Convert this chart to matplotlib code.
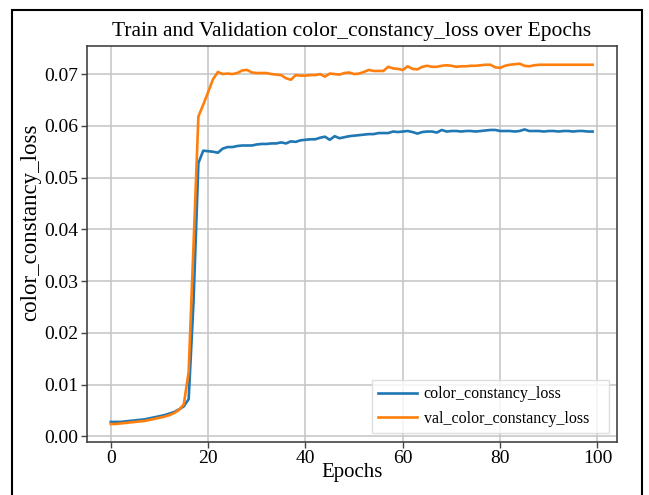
import matplotlib
matplotlib.use("Agg")
import matplotlib.pyplot as plt
from matplotlib.patches import Rectangle

plt.rcParams['font.family'] = ['Liberation Serif', 'DejaVu Serif']

epochs = list(range(100))

train_loss = [
    0.0028, 0.0028, 0.0028, 0.0029, 0.0030, 0.0031, 0.0032, 0.0033, 0.0035, 0.0037,
    0.0039, 0.0041, 0.0044, 0.0047, 0.0052, 0.0058, 0.0072, 0.0260, 0.0528, 0.0552,
    0.0551, 0.0550, 0.0548, 0.0556, 0.0559, 0.0559, 0.0561, 0.0562, 0.0562, 0.0562,
    0.0564, 0.0565, 0.0565, 0.0566, 0.0566, 0.0568, 0.0566, 0.0570, 0.0569, 0.0572,
    0.0573, 0.0574, 0.0574, 0.0577, 0.0579, 0.0573, 0.0580, 0.0576, 0.0578, 0.0580,
    0.0581, 0.0582, 0.0583, 0.0584, 0.0584, 0.0586, 0.0586, 0.0586, 0.0589, 0.0588,
    0.0589, 0.0590, 0.0588, 0.0585, 0.0588, 0.0589, 0.0589, 0.0587, 0.0592, 0.0589,
    0.0590, 0.0590, 0.0589, 0.0590, 0.0590, 0.0589, 0.0590, 0.0591, 0.0592, 0.0592,
    0.0590, 0.0590, 0.0590, 0.0589, 0.0590, 0.0593, 0.0590, 0.0590, 0.0590, 0.0589,
    0.0590, 0.0590, 0.0589, 0.0590, 0.0590, 0.0589, 0.0590, 0.0590, 0.0589, 0.0589,
]

val_loss = [
    0.0024, 0.0024, 0.0025, 0.0026, 0.0027, 0.0028, 0.0029, 0.0030, 0.0032, 0.0034,
    0.0036, 0.0038, 0.0041, 0.0045, 0.0051, 0.0062, 0.0125, 0.0370, 0.0618, 0.0641,
    0.0665, 0.0690, 0.0704, 0.0700, 0.0701, 0.0700, 0.0702, 0.0707, 0.0708, 0.0703,
    0.0702, 0.0702, 0.0702, 0.0700, 0.0699, 0.0698, 0.0692, 0.0689, 0.0698, 0.0697,
    0.0697, 0.0698, 0.0698, 0.0700, 0.0695, 0.0701, 0.0700, 0.0699, 0.0702, 0.0703,
    0.0700, 0.0701, 0.0704, 0.0708, 0.0706, 0.0706, 0.0706, 0.0714, 0.0711, 0.0710,
    0.0708, 0.0715, 0.0710, 0.0709, 0.0714, 0.0716, 0.0714, 0.0714, 0.0716, 0.0717,
    0.0716, 0.0714, 0.0715, 0.0715, 0.0716, 0.0716, 0.0717, 0.0718, 0.0718, 0.0713,
    0.0712, 0.0716, 0.0718, 0.0719, 0.0720, 0.0716, 0.0715, 0.0717, 0.0718, 0.0718,
    0.0718, 0.0718, 0.0718, 0.0718, 0.0718, 0.0718, 0.0718, 0.0718, 0.0718, 0.0718,
]

title = "Train and Validation color_constancy_loss over Epochs"
xlabel = "Epochs"
ylabel = "color_constancy_loss"
labels = ["color_constancy_loss", "val_color_constancy_loss"]
yticks = [0.00, 0.01, 0.02, 0.03, 0.04, 0.05, 0.06, 0.07]
xticks = [0, 20, 40, 60, 80, 100]

W, H = 649, 495
fig = plt.figure(figsize=(W / 100, H / 100), dpi=100)
ax = fig.add_axes([86.7 / W, 1 - 442 / H, (616.7 - 86.7) / W, (442 - 45.7) / H])

ax.plot(epochs, train_loss, color='#1f77b4', lw=1.9, label=labels[0])
ax.plot(epochs, val_loss, color='#ff7f0e', lw=1.9, label=labels[1])

ax.set_xticks(xticks)
ax.set_yticks(yticks)
ax.set_yticklabels([f"{v:.2f}" for v in yticks])
ax.tick_params(axis='both', labelsize=14, length=4, width=1, color='#444444', direction='out', pad=2)
ax.grid(True, color='#c8c8c8', lw=1.2)
ax.set_axisbelow(True)
for s in ax.spines.values():
    s.set_color('#444444')
    s.set_linewidth(1.2)

ax.set_title(title, fontsize=15.5, pad=7)
ax.set_xlabel(xlabel, fontsize=15, labelpad=-3)
ax.set_ylabel(ylabel, fontsize=16.5)
ax.yaxis.set_label_coords(-0.086, 0.555)

leg = ax.legend(loc='lower left', bbox_to_anchor=(0.538, 0.022, 0.447, 0.12), mode='expand',
                fontsize=11.5, frameon=True, fancybox=False, borderaxespad=0.0,
                borderpad=0.4, handlelength=2.4, handletextpad=0.45, labelspacing=0.55)
leg.get_frame().set_edgecolor('#d8d8d8')
leg.get_frame().set_linewidth(1.0)

fig.patches.append(Rectangle((11.7 / W, -0.02), (641.7 - 11.7) / W, 1.02 - 10 / H,
                             transform=fig.transFigure, fill=False, edgecolor='black',
                             lw=1.5, figure=fig))

fig.savefig("out.png", dpi=100)
